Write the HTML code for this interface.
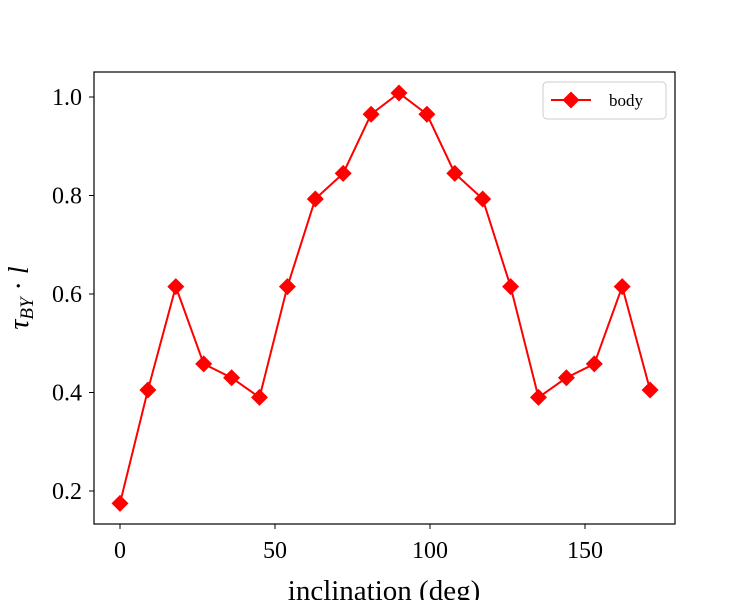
<!DOCTYPE html>
<html><head><meta charset="utf-8"><style>
body{margin:0;background:#fff;}
text{font-family:"Liberation Serif",serif;fill:#000;}
</style></head><body>
<svg id="chart" width="750" height="600" xmlns="http://www.w3.org/2000/svg">
<rect x="0" y="0" width="750" height="600" fill="#fff"/>
<g id="plot"></g>
</svg>
<script>
const xValues=[0,9,18,27,36,45,54,63,72,81,90,99,108,117,126,135,144,153,162,171];
const yValues=[0.175,0.405,0.615,0.458,0.43,0.39,0.615,0.793,0.845,0.965,1.008,0.965,0.845,0.793,0.615,0.39,0.43,0.458,0.615,0.405];
const xTicks=[0,50,100,150];
const yTicks=[0.2,0.4,0.6,0.8,1.0];
const L=94,R=675,T=72,B=524;
const sx=v=>120+v*3.1;
const sy=v=>491-(v-0.2)*(491-97)/0.8;
const NS="http://www.w3.org/2000/svg";
const g=document.getElementById('plot');
function mk(tag,attrs,parent){const e=document.createElementNS(NS,tag);for(const k in attrs)e.setAttribute(k,attrs[k]);(parent||g).appendChild(e);return e;}
const frame=mk('rect',{x:L,y:T,width:R-L,height:B-T,fill:'none',stroke:'#000','stroke-width':1.2});


xTicks.forEach(v=>{
  const t=mk('line',{x1:sx(v),x2:sx(v),y1:B,y2:B+5,stroke:'#000'});
  
  
  const l=mk('text',{x:sx(v),y:B+34,'text-anchor':'middle','font-size':24});
  l.textContent=v;
  
  
});
yTicks.forEach(v=>{
  const t=mk('line',{x1:L-5,x2:L,y1:sy(v),y2:sy(v),stroke:'#000'});
  
  
  const l=mk('text',{x:L-12,y:sy(v)+8,'text-anchor':'end','font-size':24});
  l.textContent=v.toFixed(1);
  
  
});
const pts=xValues.map((x,i)=>sx(x)+','+sy(yValues[i])).join(' ');
const line=mk('polyline',{points:pts,fill:'none',stroke:'#f00','stroke-width':2});


xValues.forEach((x,i)=>{
  const cx=sx(x),cy=sy(yValues[i]),r=8.5;
  const m=mk('polygon',{points:`${cx},${cy-r} ${cx+r},${cy} ${cx},${cy+r} ${cx-r},${cy}`,fill:'#f00'});
  
  
});
const xt=mk('text',{x:384,y:600,'text-anchor':'middle','font-size':29});
xt.textContent='inclination (deg)';


const yt=mk('text',{x:0,y:0,'text-anchor':'middle','font-size':28,'font-style':'italic',transform:'translate(28,298) rotate(-90)'});
yt.innerHTML='τ<tspan font-size="19" dy="5">BY</tspan><tspan dy="-5" font-style="normal"> · </tspan>l';


const lg=mk('g',{});


mk('rect',{x:543,y:82,width:123,height:37,rx:4,fill:'#fff',stroke:'#ccc'},lg);
mk('line',{x1:551,x2:591,y1:100,y2:100,stroke:'#f00','stroke-width':2},lg);
mk('polygon',{points:'571,91.5 579.5,100 571,108.5 562.5,100',fill:'#f00'},lg);
const lt=mk('text',{x:609,y:106,'font-size':17},lg);
lt.textContent='body';


</script>
</body></html>
